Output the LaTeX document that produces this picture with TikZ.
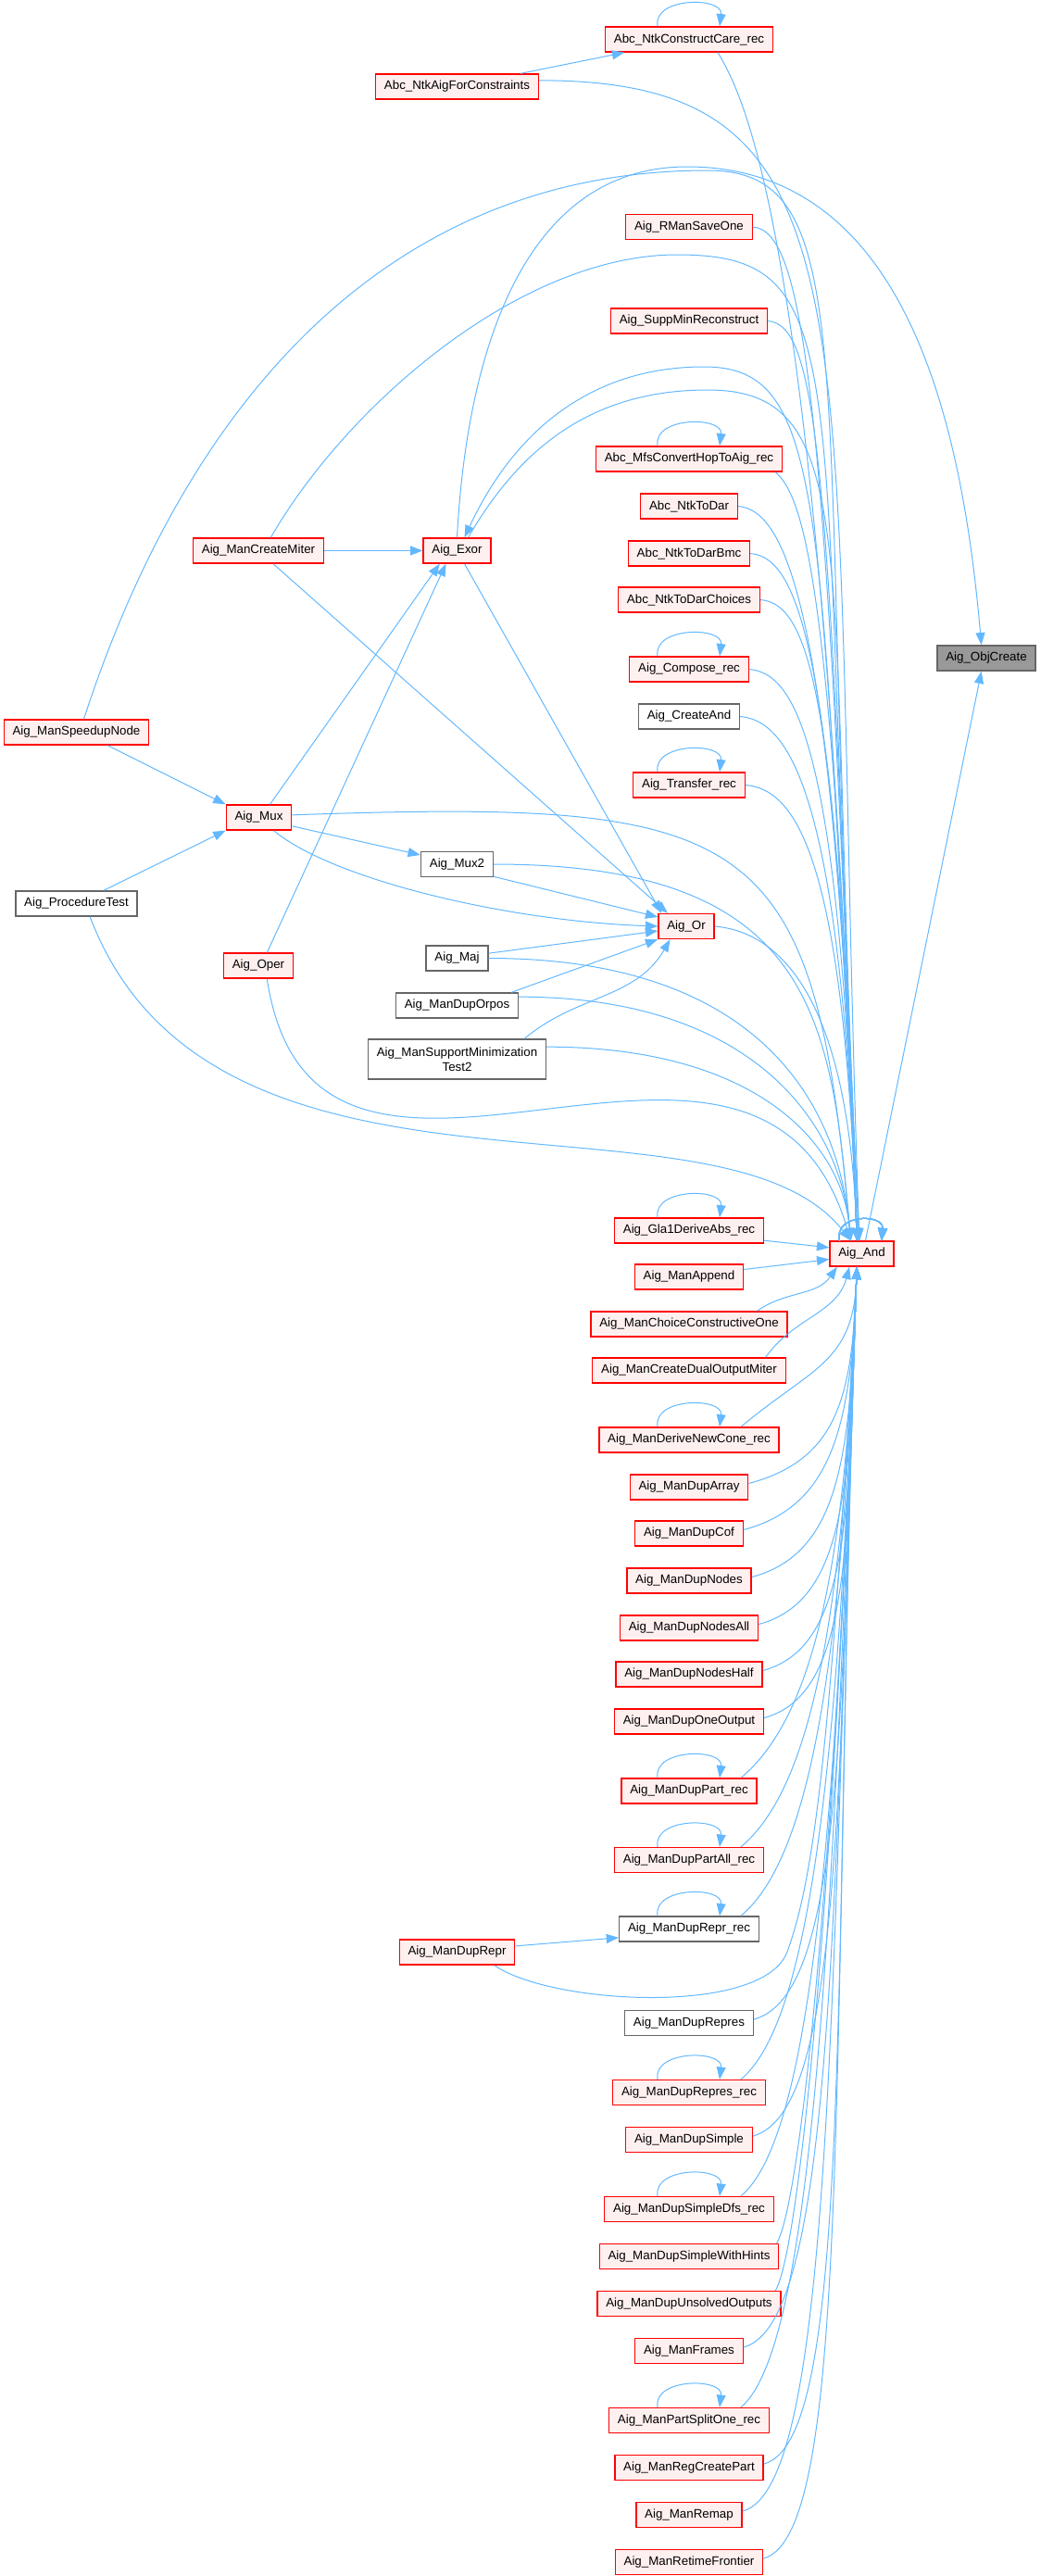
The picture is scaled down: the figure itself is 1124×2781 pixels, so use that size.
\documentclass[tikz,border=0pt]{standalone}
\usepackage{fontspec}
\setmainfont{Liberation Sans}
\usetikzlibrary{arrows.meta}
\definecolor{edgeblue}{RGB}{99,184,255}
\definecolor{truncfill}{RGB}{255,240,240}
\definecolor{grey40}{RGB}{102,102,102}
\definecolor{grey60}{RGB}{153,153,153}
\newcommand{\recloop}[1]{\draw[edge] ([xshift=-25.5pt]#1.north) .. controls +(-4pt,24pt) and +(3pt,24pt) .. ([xshift=24.75pt]#1.north);}

\begin{document}
\begin{tikzpicture}[x=0.75pt,y=0.75pt,font=\fontsize{10}{12}\selectfont]
\tikzset{fn/.style={draw=red,fill=truncfill,line width=1pt,minimum height=20.25pt,inner xsep=7pt,inner ysep=3pt},
  doc/.style={fn,draw=grey40,fill=white},
  root/.style={fn,draw=grey40,fill=grey60},
  edge/.style={draw=edgeblue,line width=0.75pt,-{Triangle[length=10pt,width=7.5pt]}}}
\useasboundingbox (0,0) rectangle (1124,-2781);

\node[root] (objCreate) at (1065,-710.5) {Aig\_ObjCreate};
\node[fn] (andGate) at (930.5,-1353.5) {Aig\_And};

\node[fn] (constructCare) at (744,-42.5) {Abc\_NtkConstructCare\_rec};
\node[fn] (aigForConstraints) at (493.5,-93.5) {Abc\_NtkAigForConstraints};
\node[fn] (rmanSaveOne) at (744,-245) {Aig\_RManSaveOne};
\node[fn] (suppMinReconstruct) at (744,-346.5) {Aig\_SuppMinReconstruct};
\node[fn] (mfsConvert) at (744,-495.5) {Abc\_MfsConvertHopToAig\_rec};
\node[fn] (ntkToDar) at (744,-546.5) {Abc\_NtkToDar};
\node[fn] (ntkToDarBmc) at (744,-597.5) {Abc\_NtkToDarBmc};
\node[fn] (ntkToDarChoices) at (744,-647.5) {Abc\_NtkToDarChoices};
\node[fn] (composeRec) at (744,-722.5) {Aig\_Compose\_rec};
\node[doc] (createAnd) at (744,-773.5) {Aig\_CreateAnd};
\node[fn] (transferRec) at (744,-847.5) {Aig\_Transfer\_rec};

\node[fn] (createMiter) at (279,-594.5) {Aig\_ManCreateMiter};
\node[fn] (exor) at (493.5,-594.5) {Aig\_Exor};
\node[fn] (speedupNode) at (82.5,-790.5) {Aig\_ManSpeedupNode};
\node[fn] (mux) at (279.5,-882.5) {Aig\_Mux};
\node[doc] (mux2) at (493.5,-933) {Aig\_Mux2};
\node[doc] (procedureTest) at (82.5,-975.5) {Aig\_ProcedureTest};
\node[fn] (orGate) at (741,-1000) {Aig\_Or};
\node[fn] (oper) at (279,-1042.5) {Aig\_Oper};
\node[doc] (maj) at (493.5,-1034.5) {Aig\_Maj};
\node[doc] (dupOrpos) at (493.5,-1085.5) {Aig\_ManDupOrpos};
\node[doc,align=center,minimum height=32.25pt] (supportMinTest2) at (493.5,-1143.5) {Aig\_ManSupportMinimization\\Test2};

\node[fn] (gla1) at (744,-1328.5) {Aig\_Gla1DeriveAbs\_rec};
\node[fn] (manAppend) at (744,-1378.5) {Aig\_ManAppend};
\node[fn] (choiceOne) at (744,-1429.5) {Aig\_ManChoiceConstructiveOne};
\node[fn] (dualMiter) at (744,-1479.5) {Aig\_ManCreateDualOutputMiter};
\node[fn] (newConeRec) at (744,-1554.5) {Aig\_ManDeriveNewCone\_rec};
\node[fn] (dupArray) at (744,-1605.5) {Aig\_ManDupArray};
\node[fn] (dupCof) at (744,-1655.5) {Aig\_ManDupCof};
\node[fn] (dupNodes) at (744,-1706.5) {Aig\_ManDupNodes};
\node[fn] (dupNodesAll) at (744,-1757.5) {Aig\_ManDupNodesAll};
\node[fn] (dupNodesHalf) at (744,-1807.5) {Aig\_ManDupNodesHalf};
\node[fn] (dupOneOutput) at (744,-1858.5) {Aig\_ManDupOneOutput};
\node[fn] (dupPartRec) at (744,-1933.5) {Aig\_ManDupPart\_rec};
\node[fn] (dupPartAllRec) at (744,-2008) {Aig\_ManDupPartAll\_rec};
\node[doc] (dupReprRec) at (744,-2082.5) {Aig\_ManDupRepr\_rec};
\node[fn] (dupRepr) at (493.5,-2107.5) {Aig\_ManDupRepr};
\node[doc] (dupRepres) at (744,-2184) {Aig\_ManDupRepres};
\node[fn] (dupRepresRec) at (744,-2259) {Aig\_ManDupRepres\_rec};
\node[fn] (dupSimple) at (744,-2310) {Aig\_ManDupSimple};
\node[fn] (dupSimpleDfsRec) at (744,-2385) {Aig\_ManDupSimpleDfs\_rec};
\node[fn] (dupSimpleHints) at (744,-2436) {Aig\_ManDupSimpleWithHints};
\node[fn] (dupUnsolved) at (744,-2487) {Aig\_ManDupUnsolvedOutputs};
\node[fn] (manFrames) at (744,-2538) {Aig\_ManFrames};
\node[fn] (partSplitRec) at (744,-2613) {Aig\_ManPartSplitOne\_rec};
\node[fn] (regCreatePart) at (744,-2664) {Aig\_ManRegCreatePart};
\node[fn] (manRemap) at (744,-2715) {Aig\_ManRemap};
\node[fn] (retimeFrontier) at (744,-2766) {Aig\_ManRetimeFrontier};

\coordinate (speedTop) at (764,-184);
\coordinate (exorObjTop) at (742,-180);
\coordinate (miterTop) at (731,-275);
\coordinate (andExorTop) at (760,-396);
\coordinate (exorAndTop) at (764,-421);
\coordinate (reprLow) at (850,-2107);

\foreach \n in {constructCare,mfsConvert,composeRec,transferRec,gla1,newConeRec,dupPartRec,dupPartAllRec,dupReprRec,dupRepresRec,dupSimpleDfsRec,partSplitRec}
  \recloop{\n}
\draw[edge] ([xshift=-18pt]andGate.north) .. controls +(-5pt,22pt) and +(2pt,22pt) .. ([xshift=16pt]andGate.north);

\draw[edge] ([xshift=3pt]andGate.north) -- ([xshift=-4pt]objCreate.south);
\draw[edge] (exor.north) to[out=87,in=180] (exorObjTop) to[out=0,in=95] ([xshift=-4pt]objCreate.north);

\draw[edge] ([xshift=-15pt]aigForConstraints.north east) -- ([xshift=16pt]constructCare.south west);
\draw[edge] ([yshift=5pt]aigForConstraints.east) .. controls +(0:280pt) and +(92:750pt) .. ([xshift=-2pt]andGate.north);
\draw[edge] ([xshift=-45pt]constructCare.south east) .. controls +(-60:40pt) and +(92:821pt) .. ([xshift=-4pt]andGate.north);
\draw[edge] ([xshift=-6pt]mfsConvert.south east) .. controls +(-40:30pt) and +(92:531pt) .. ([xshift=-4pt]andGate.north);
\foreach \n/\dist in {rmanSaveOne/700pt,suppMinReconstruct/636pt,ntkToDar/508pt,ntkToDarBmc/475pt,ntkToDarChoices/443pt,composeRec/395pt,createAnd/362pt,transferRec/315pt,orGate/218pt}
  \draw[edge] (\n.east) .. controls +(-5:40pt) and +(92:\dist) .. ([xshift=-4pt]andGate.north);

\draw[edge] ([xshift=6pt]speedupNode.north) to[out=72,in=180] (speedTop) .. controls +(0:130pt) and +(93:700pt) .. ([xshift=-2pt]andGate.north);
\draw[edge] ([xshift=10pt]createMiter.north) to[out=60,in=180,looseness=0.8] (miterTop) .. controls +(0:150pt) and +(93:705pt) .. ([xshift=-2pt]andGate.north);
\draw[edge] ([xshift=-3pt]andGate.north) .. controls +(93:600pt) and +(0:100pt) .. (andExorTop) to[out=180,in=65] ([xshift=6pt]exor.north);
\draw[edge] ([xshift=9pt]exor.north) to[out=60,in=180] (exorAndTop) .. controls +(0:130pt) and +(93:550pt) .. ([xshift=-2pt]andGate.north);

\draw[edge] (createMiter) -- (exor);
\draw[edge] ([xshift=9pt]mux.north) -- ([xshift=-14pt]exor.south);
\draw[edge] ([xshift=7pt]oper.north) -- ([xshift=-9pt]exor.south);
\draw[edge] ([xshift=12pt]createMiter.south) -- ([xshift=8pt]orGate.north west);
\draw[edge] ([xshift=6pt]exor.south) -- ([xshift=3pt]orGate.north west);
\draw[edge] ([xshift=-34pt]speedupNode.south east) -- (mux.north west);
\draw[edge] ([xshift=22pt]procedureTest.north) -- (mux.south west);
\draw[edge] ([yshift=-7pt]mux.east) -- ([yshift=7.5pt]mux2.west);
\draw[edge] ([xshift=12pt]mux.south) .. controls +(-40:60pt) and +(178:125pt) .. (orGate.west);
\draw[edge] ([yshift=-10pt]mux2.east) -- ([yshift=7.5pt]orGate.west);
\draw[edge] ([yshift=4pt]maj.east) -- ([yshift=-3.75pt]orGate.west);
\draw[edge] ([xshift=-6pt]dupOrpos.north east) -- (orGate.south west);
\draw[edge] ([xshift=-18pt]supportMinTest2.north east) to[out=40,in=-120] ([xshift=10pt]orGate.south west);

\draw[edge] ([yshift=2pt]mux.east) .. controls +(2:375pt) and +(95:338pt) .. ([xshift=-9pt]andGate.north);
\draw[edge] (mux2.east) .. controls +(0:260pt) and +(95:180pt) .. ([xshift=-9pt]andGate.north);
\draw[edge] (maj.east) .. controls +(0:225pt) and +(95:105pt) .. ([xshift=-9pt]andGate.north);
\draw[edge] ([yshift=7pt]dupOrpos.east) .. controls +(0:187pt) and +(95:98pt) .. ([xshift=-9pt]andGate.north);
\draw[edge] ([yshift=10pt]supportMinTest2.east) .. controls +(0:165pt) and +(95:83pt) .. ([xshift=-9pt]andGate.north);
\draw[edge] ([xshift=7pt]oper.south) .. controls +(52,-344) and +(-100,340) .. ([xshift=-9pt]andGate.north);
\draw[edge] ([xshift=11pt]procedureTest.south) .. controls +(133,-351) and +(-140,180) .. ([xshift=-9pt]andGate.north);

\draw[edge] ([yshift=-8pt]gla1.east) -- ([yshift=5pt]andGate.west);
\draw[edge] ([yshift=6pt]manAppend.east) -- ([yshift=-4.5pt]andGate.west);
\draw[edge] ([xshift=55pt]choiceOne.north) to[out=35,in=-125] ([xshift=-20pt]andGate.south);
\draw[edge] ([xshift=62pt]dualMiter.north) to[out=55,in=-105] ([xshift=-10pt]andGate.south);
\foreach \n/\dist in {dupArray/105pt,dupCof/128pt,dupNodes/151pt,dupNodesAll/172pt,dupNodesHalf/194pt,dupOneOutput/217pt,dupRepres/364pt,dupSimple/422pt,manFrames/526pt,regCreatePart/580pt,manRemap/606pt,retimeFrontier/626pt}
  \draw[edge] ([yshift=3pt]\n.east) .. controls +(15:75pt) and +(-92:\dist) .. ([xshift=-4pt]andGate.south);
\foreach \n/\dist in {newConeRec/78pt,dupPartRec/248pt,dupPartAllRec/282pt,dupReprRec/315pt,dupRepresRec/395pt,dupSimpleDfsRec/451pt,partSplitRec/554pt}
  \draw[edge] ([xshift=42pt]\n.north) .. controls +(40:75pt) and +(-92:\dist) .. ([xshift=-4pt]andGate.south);
\foreach \n/\s/\dist in {dupSimpleHints/71pt/475pt,dupUnsolved/70pt/498pt}
  \draw[edge] ([xshift=\s]\n.north) .. controls +(60:40pt) and +(-92:\dist) .. ([xshift=-4pt]andGate.south);
\draw[edge] ([yshift=5pt]dupRepr.east) -- ([yshift=-7pt]dupReprRec.west);
\draw[edge] ([xshift=-17pt]dupRepr.south east) to[out=-35,in=-110,looseness=0.6] (reprLow) .. controls +(70:60pt) and +(-93:400pt) .. ([xshift=-4pt]andGate.south);
\end{tikzpicture}
\end{document}
